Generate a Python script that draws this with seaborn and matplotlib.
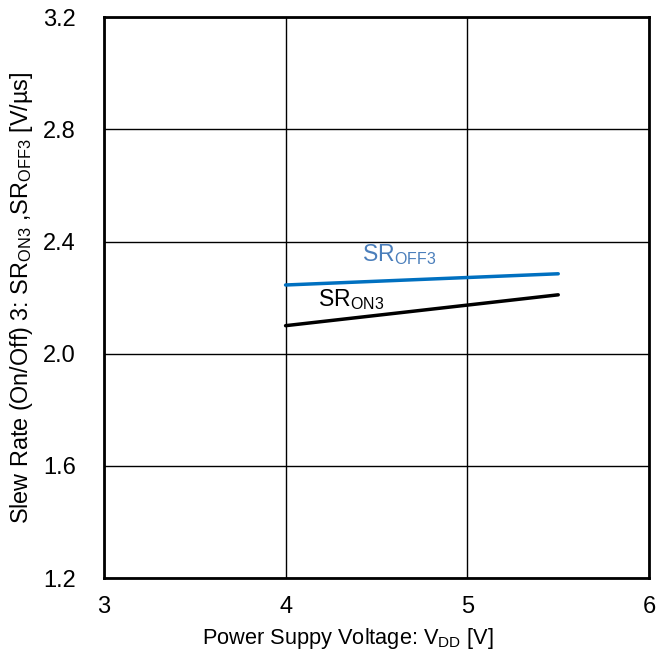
import numpy as np
import pandas as pd
import matplotlib
matplotlib.use("Agg")
import matplotlib.pyplot as plt
import seaborn as sns

# Data
vdd = [4.0, 5.5]
sr_on3 = [2.10, 2.21]
sr_off3 = [2.245, 2.285]

x_ticks = [3, 4, 5, 6]
y_ticks = [1.2, 1.6, 2.0, 2.4, 2.8, 3.2]

sns.set_theme(style="white")
plt.rcParams["font.family"] = ["Liberation Sans", "DejaVu Sans"]
plt.rcParams["mathtext.fontset"] = "custom"
plt.rcParams["mathtext.rm"] = "Liberation Sans"
plt.rcParams["mathtext.it"] = "Liberation Sans"

df = pd.DataFrame({"vdd": vdd + vdd,
                   "sr": sr_on3 + sr_off3,
                   "kind": ["ON3"] * len(vdd) + ["OFF3"] * len(vdd)})

fig, ax = plt.subplots(figsize=(6.57, 6.57), dpi=100)
fig.subplots_adjust(left=0.158, right=0.988, top=0.974, bottom=0.12)

sns.lineplot(data=df, x="vdd", y="sr", hue="kind",
             palette={"ON3": "black", "OFF3": "#0070c0"},
             linewidth=2.5, legend=False, ax=ax)

ax.set_xlim(3, 6)
ax.set_ylim(1.2, 3.2)
ax.set_xticks(x_ticks)
ax.set_yticks(y_ticks)
ax.set_xticklabels([str(t) for t in x_ticks])
ax.set_yticklabels([f"{t:.1f}" for t in y_ticks])
ax.grid(True, color="black", linewidth=1.0)
for s in ax.spines.values():
    s.set_color("black")
    s.set_linewidth(2.0)
ax.tick_params(axis="x", labelsize=17, colors="black", length=0, pad=13)
ax.tick_params(axis="y", labelsize=17, colors="black", length=0, pad=20)

ax.set_xlabel(r"Power Suppy Voltage: V$_{\mathrm{DD}}$ [V]", fontsize=15.7, color="black", labelpad=8)
ax.xaxis.set_label_coords(0.448, -0.085)
ax.set_ylabel(r"Slew Rate (On/Off) 3: SR$_{\mathrm{ON3}}$ ,SR$_{\mathrm{OFF3}}$ [V/µs]",
              fontsize=16.8, color="black", labelpad=6)

ax.text(4.42, 2.33, r"SR$_{\mathrm{OFF3}}$", fontsize=16.5, color="#4a7ebb")
ax.text(4.18, 2.17, r"SR$_{\mathrm{ON3}}$", fontsize=16.5, color="black")

fig.savefig("out.png", dpi=100)
